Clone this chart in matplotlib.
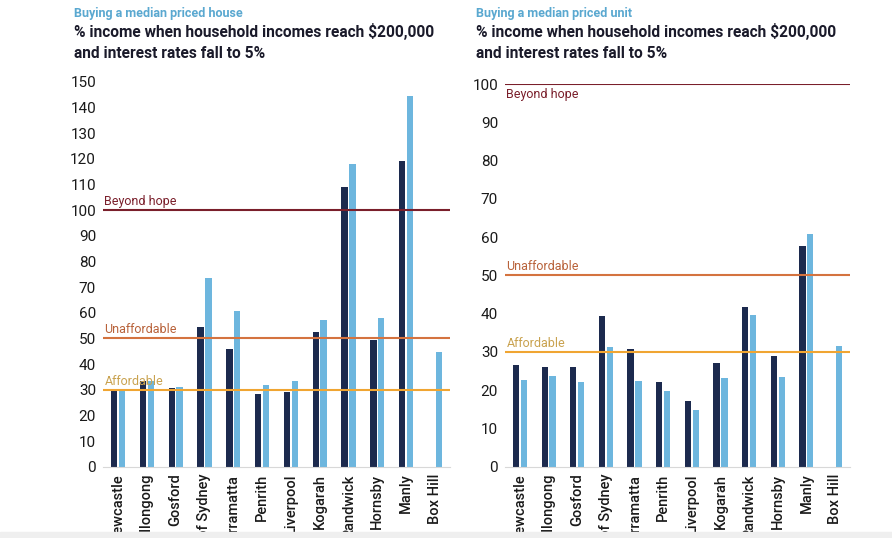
import matplotlib.pyplot as plt
import numpy as np

plt.rcParams['font.family'] = ['Roboto', 'DejaVu Sans']

suburbs = ['Newcastle', 'Wollongong', 'Gosford', 'City of Sydney', 'Parramatta', 'Penrith',
           'Liverpool', 'Kogarah', 'Randwick', 'Hornsby', 'Manly', 'Box Hill']

# house panel (% income), dark = first series, light = second series
house_dark = [29.3, 33.3, 30.5, 54.5, 46.0, 28.5, 29.0, 52.5, 108.8, 49.5, 119.2, np.nan]
house_light = [29.3, 33.3, 31.0, 73.5, 60.5, 31.7, 33.3, 57.0, 117.9, 57.8, 144.4, 44.7]

# unit panel
unit_dark = [26.5, 26.1, 26.1, 39.3, 30.7, 22.1, 17.1, 27.2, 41.6, 28.9, 57.6, np.nan]
unit_light = [22.6, 23.7, 22.1, 31.4, 22.5, 19.8, 14.7, 23.2, 39.6, 23.4, 60.9, 31.6]

thresholds = [100, 50, 30]
threshold_names = ['Beyond hope', 'Unaffordable', 'Affordable']
line_colors = ['#7a1f2b', '#d4733f', '#f0a532']
label_colors = ['#7a1f2b', '#b8623a', '#c9a24f']

dark_col = '#1c2a4e'
light_col = '#6db6de'

W, H = 892, 538
fig = plt.figure(figsize=(W / 100, H / 100), dpi=100)


def drawPanel(rect, dark, light, ymax, ticks, subtitle, beyondBelow):
    ax = fig.add_axes(rect)
    x = np.arange(len(suburbs))
    ax.bar(x - 0.135, dark, width=0.22, color=dark_col, zorder=2)
    ax.bar(x + 0.135, light, width=0.22, color=light_col, zorder=2)
    ax.set_xlim(-0.52, len(suburbs) - 0.48)
    ax.set_ylim(0, ymax)
    ax.set_yticks(ticks)
    ax.set_xticks(x)
    ax.set_xticklabels(suburbs, rotation=90, fontsize=10.5, fontweight='medium', color='#1a1a1a')
    ax.tick_params(axis='y', length=0, labelsize=11, colors='#1a1a1a', pad=5)
    ax.tick_params(axis='x', length=0, pad=5)
    for s in ['top', 'right', 'left']:
        ax.spines[s].set_visible(False)
    ax.spines['bottom'].set_color('#d8d8d8')
    for val, name, lc, tc in zip(thresholds, threshold_names, line_colors, label_colors):
        ax.axhline(val, color=lc, lw=1.5, zorder=3)
        if name == 'Beyond hope' and beyondBelow:
            ax.annotate(name, (-0.52, val), xytext=(1, -3), textcoords='offset points',
                        ha='left', va='top', fontsize=9, color=tc)
        else:
            ax.annotate(name, (-0.52, val), xytext=(1, 1.5), textcoords='offset points',
                        ha='left', va='bottom', fontsize=9, color=tc)
    x0 = rect[0] - 29 / W
    fig.text(x0, 1 - 13 / H, subtitle, fontsize=9, fontweight='bold', color='#5aa8d0', va='center')
    fig.text(x0, 1 - 32 / H, '% income when household incomes reach $200,000',
             fontsize=11.2, fontweight='bold', color='#1a1a2a', va='center')
    fig.text(x0, 1 - 54 / H, 'and interest rates fall to 5%',
             fontsize=11.2, fontweight='bold', color='#1a1a2a', va='center')
    return ax


drawPanel([103 / W, (H - 466.7) / H, 347 / W, 385 / H], house_dark, house_light,
          150, range(0, 151, 10), 'Buying a median priced house', False)
drawPanel([505 / W, (H - 466.7) / H, 345 / W, 382.7 / H], unit_dark, unit_light,
          100, range(0, 101, 10), 'Buying a median priced unit', True)

# grey strip at the bottom of the screenshot
fig.patches.append(plt.Rectangle((0, 0), 1, 6 / H, transform=fig.transFigure,
                                 color='#efefef', zorder=10))

fig.savefig('out.png', dpi=100)
